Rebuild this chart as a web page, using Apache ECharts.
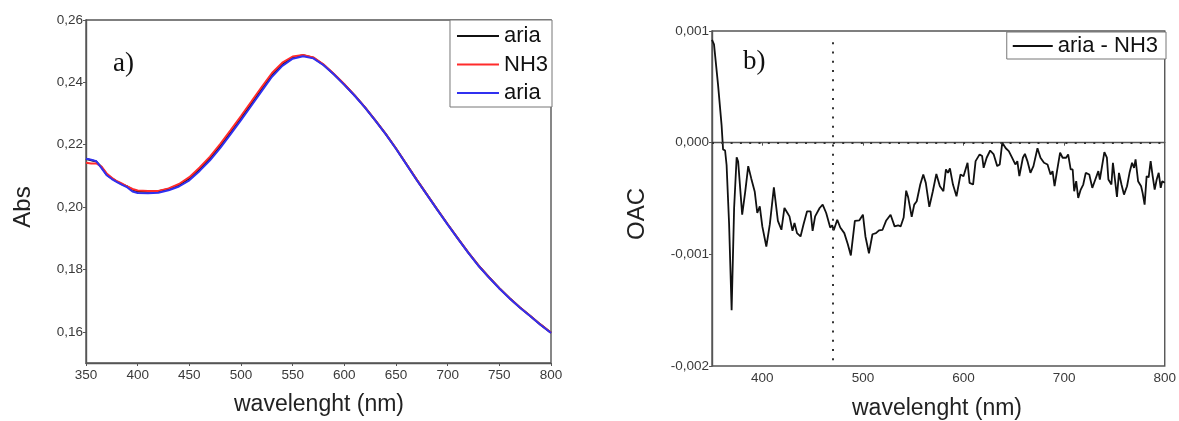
<!DOCTYPE html>
<html>
<head>
<meta charset="utf-8">
<title>Abs / OAC spectra</title>
<script src="https://cdn.jsdelivr.net/npm/echarts@6/dist/echarts.min.js"></script>
<style>
  html, body { margin: 0; padding: 0; background: #fff; }
  #chart { width: 1179px; height: 421px; }
</style>
</head>
<body>
<div id="chart"></div>
<script>
// Panel a) absorbance spectra (nm, Abs)
const wavelengthsA = [350, 355, 360, 365, 370, 375, 380, 385, 390, 395, 400, 410, 420, 430, 440, 450, 460, 470, 480, 490, 500, 510, 520, 530, 540, 550, 560, 570, 580, 590, 600, 610, 620, 630, 640, 650, 660, 670, 680, 690, 700, 710, 720, 730, 740, 750, 760, 770, 780, 790, 800];
const absAriaBefore = [0.2155, 0.2150, 0.2146, 0.2128, 0.2104, 0.2092, 0.2082, 0.2073, 0.2066, 0.2056, 0.2050, 0.2049, 0.2051, 0.2058, 0.2071, 0.2092, 0.2122, 0.2156, 0.2196, 0.2240, 0.2285, 0.2331, 0.2378, 0.2424, 0.2458, 0.2480, 0.2487, 0.2479, 0.2456, 0.2426, 0.2393, 0.2358, 0.2320, 0.2278, 0.2235, 0.2188, 0.2138, 0.2088, 0.2040, 0.1992, 0.1945, 0.1899, 0.1854, 0.1812, 0.1775, 0.1740, 0.1708, 0.1678, 0.1651, 0.1623, 0.1597];
const absNH3 = [0.2142, 0.2140, 0.2140, 0.2130, 0.2108, 0.2094, 0.2083, 0.2075, 0.2066, 0.2058, 0.2053, 0.2052, 0.2052, 0.2060, 0.2074, 0.2096, 0.2127, 0.2162, 0.2203, 0.2247, 0.2292, 0.2338, 0.2385, 0.2430, 0.2463, 0.2483, 0.2488, 0.2480, 0.2457, 0.2427, 0.2394, 0.2358, 0.2320, 0.2278, 0.2235, 0.2188, 0.2138, 0.2088, 0.2040, 0.1992, 0.1945, 0.1899, 0.1854, 0.1812, 0.1775, 0.1740, 0.1708, 0.1678, 0.1651, 0.1623, 0.1597];
const absAriaAfter = [0.2155, 0.2152, 0.2147, 0.2125, 0.2102, 0.2090, 0.2080, 0.2071, 0.2063, 0.2050, 0.2045, 0.2044, 0.2046, 0.2054, 0.2066, 0.2086, 0.2116, 0.2150, 0.2190, 0.2234, 0.2279, 0.2325, 0.2372, 0.2418, 0.2453, 0.2476, 0.2484, 0.2477, 0.2455, 0.2425, 0.2392, 0.2357, 0.2319, 0.2277, 0.2234, 0.2187, 0.2137, 0.2087, 0.2039, 0.1991, 0.1944, 0.1898, 0.1853, 0.1811, 0.1774, 0.1739, 0.1707, 0.1677, 0.1650, 0.1622, 0.1596];
const absTicks = [0.16, 0.18, 0.20, 0.22, 0.24, 0.26];

// Panel b) difference spectrum aria - NH3 (nm, OAC)
const wavelengthsB = [350, 352, 356, 359.5, 361, 363, 364.5, 367, 369.5, 372, 374.5, 376, 380, 383, 386, 389, 392.5, 395, 397.5, 400, 404, 407.5, 411.5, 415.5, 419, 422, 425, 427, 430, 432, 434.5, 438, 441, 444.5, 448, 450, 452.5, 457, 460, 463.5, 465, 467.5, 469.5, 471, 474.5, 477.5, 481.5, 485, 488, 492, 496.5, 500, 502.5, 506, 509.5, 513, 516, 519.5, 523, 527.5, 531.5, 535, 537.5, 540.5, 543, 545, 548.5, 551, 553.5, 557, 560, 562.5, 566, 569.5, 573, 576.5, 580, 582.5, 584.5, 586.5, 589.5, 593, 597, 600, 604, 606, 609.5, 612, 616, 618.5, 620, 623, 626.5, 630, 633.5, 636, 638.5, 642, 645, 648, 651.5, 653.5, 655.5, 659, 661, 663.5, 666.5, 669.5, 673.5, 676.5, 680, 683.5, 686.5, 688.5, 690.5, 693, 696, 698.5, 702, 704, 706.5, 708.5, 710, 712, 714, 716.5, 719, 721.5, 725, 728, 731, 734, 735.5, 740, 742.5, 744, 747, 748.5, 750.5, 752.5, 754.5, 757, 759.5, 762.5, 765, 767.5, 769.5, 771, 773.5, 776.5, 778, 780, 782, 784, 786, 788, 790, 792, 794, 796, 797.5, 800];
const oacDiff = [0.00092, 0.00088, 0.00052, 0.00016, -0.00006, -0.00007, -0.00020, -0.00073, -0.00150, -0.00058, -0.00013, -0.00017, -0.000645, -0.00044, -0.00021, -0.00032, -0.00044, -0.00063, -0.00057, -0.00075, -0.00093, -0.00073, -0.00040, -0.00070, -0.00078, -0.000585, -0.00063, -0.00066, -0.00079, -0.00072, -0.00081, -0.00084, -0.00073, -0.000615, -0.000615, -0.00079, -0.00066, -0.000585, -0.000555, -0.00063, -0.000645, -0.00076, -0.00074, -0.000785, -0.00069, -0.00076, -0.00081, -0.00091, -0.00101, -0.00070, -0.000695, -0.000645, -0.00084, -0.00099, -0.00082, -0.00081, -0.000785, -0.00078, -0.00070, -0.000645, -0.00075, -0.00074, -0.00075, -0.00067, -0.00043, -0.00049, -0.000665, -0.000555, -0.000525, -0.000375, -0.000285, -0.00036, -0.000575, -0.000435, -0.00028, -0.00039, -0.000435, -0.00024, -0.00027, -0.00023, -0.000375, -0.00048, -0.000285, -0.00030, -0.00018, -0.00036, -0.000375, -0.000165, -0.000105, -0.00012, -0.000225, -0.000135, -0.00007, -0.000105, -0.00021, -0.000195, 0.0, -0.00005, -0.000075, -0.00013, -0.000195, -0.000165, -0.00030, -0.000135, -0.00010, -0.000165, -0.00027, -0.00021, -0.00005, -0.000135, -0.00018, -0.000195, -0.000285, -0.000255, -0.00039, -0.00025, -0.00009, -0.000135, -0.000135, -0.000105, -0.00024, -0.00024, -0.000435, -0.000345, -0.000495, -0.00042, -0.000375, -0.00027, -0.000285, -0.000405, -0.00033, -0.000255, -0.00033, -0.000085, -0.000135, -0.00033, -0.000375, -0.00018, -0.00033, -0.000485, -0.00027, -0.000375, -0.000465, -0.00039, -0.00027, -0.00018, -0.000225, -0.00015, -0.000345, -0.00039, -0.00045, -0.000555, -0.00030, -0.00031, -0.000165, -0.00030, -0.00042, -0.00033, -0.00027, -0.000405, -0.000345, -0.00036];
const oacTicks = [400, 500, 600, 700, 800];
const markerWavelength = 470;

// Series names and the text each shows in the legend
const legendText = { 'aria-1': 'aria', 'NH3': 'NH3', 'aria-2': 'aria', 'aria - NH3': 'aria - NH3' };

const pairs = (xs, ys) => xs.map((x, i) => [x, ys[i]]);
const comma = (v, d) => v.toFixed(d).replace('.', ',');

const tickFont = { color: '#3a3a3a', fontSize: 13.5, fontFamily: 'Liberation Sans, Arial, sans-serif' };
const frameColor = '#555';
const titleFont = 'Liberation Sans, Arial, sans-serif';

const chart = echarts.init(document.getElementById('chart'), null, { renderer: 'canvas' });

chart.setOption({
  animation: false,
  backgroundColor: '#ffffff',
  grid: [
    { left: 86, top: 20, width: 465, height: 343, show: true, borderColor: frameColor, borderWidth: 1.4, backgroundColor: 'transparent' },
    { left: 712, top: 31, width: 455, height: 335, show: true, borderColor: frameColor, borderWidth: 1.4, backgroundColor: 'transparent' }
  ],
  xAxis: [
    {
      gridIndex: 0, type: 'value', min: 350, max: 800, interval: 50,
      axisLine: { show: true, lineStyle: { color: frameColor, width: 1.4 } },
      axisTick: { show: true, length: 3, lineStyle: { color: frameColor } },
      axisLabel: Object.assign({ margin: 5, formatter: v => String(v) }, tickFont),
      splitLine: { show: false }
    },
    {
      gridIndex: 1, type: 'value', min: 350, max: 800,
      axisLine: { show: true, lineStyle: { color: frameColor, width: 1.4 } },
      axisTick: { show: true, length: 3, customValues: oacTicks, lineStyle: { color: frameColor } },
      axisLabel: Object.assign({ margin: 5, customValues: oacTicks, formatter: v => String(v) }, tickFont),
      splitLine: { show: false }
    }
  ],
  yAxis: [
    {
      gridIndex: 0, type: 'value', min: 0.15, max: 0.26,
      axisLine: { show: true, lineStyle: { color: frameColor, width: 1.4 } },
      axisTick: { show: true, length: 3, customValues: absTicks, lineStyle: { color: frameColor } },
      axisLabel: Object.assign({ margin: 3, customValues: absTicks, formatter: v => comma(v, 2) }, tickFont),
      splitLine: { show: false }
    },
    {
      gridIndex: 1, type: 'value', min: -0.002, max: 0.001, interval: 0.001,
      axisLine: { show: true, lineStyle: { color: frameColor, width: 1.4 } },
      axisTick: { show: true, length: 3, lineStyle: { color: frameColor } },
      axisLabel: Object.assign({ margin: 3, formatter: v => comma(v, 3) }, tickFont),
      splitLine: { show: false }
    }
  ],
  legend: [
    {
      data: ['aria-1', 'NH3', 'aria-2'],
      orient: 'vertical', right: 627, top: 20,
      icon: 'rect', itemWidth: 42, itemHeight: 2, itemGap: 6.5,
      padding: [5, 4, 3, 7],
      borderColor: '#777', borderWidth: 1, backgroundColor: '#fff',
      formatter: n => legendText[n],
      textStyle: { fontSize: 22, lineHeight: 22, color: '#111', fontFamily: titleFont }
    },
    {
      data: ['aria - NH3'],
      orient: 'vertical', right: 13, top: 32,
      icon: 'rect', itemWidth: 40, itemHeight: 2,
      padding: [3, 8, 2, 6],
      borderColor: '#777', borderWidth: 1, backgroundColor: '#fff',
      formatter: n => legendText[n],
      textStyle: { fontSize: 22, lineHeight: 22, color: '#111', fontFamily: titleFont }
    }
  ],
  series: [
    {
      name: 'aria-1', type: 'line', xAxisIndex: 0, yAxisIndex: 0, showSymbol: false, symbol: 'none',
      color: '#111111', lineStyle: { width: 2, color: '#111111' },
      data: pairs(wavelengthsA, absAriaBefore)
    },
    {
      name: 'NH3', type: 'line', xAxisIndex: 0, yAxisIndex: 0, showSymbol: false, symbol: 'none',
      color: '#ff2b2b', lineStyle: { width: 2, color: '#ff2b2b' },
      data: pairs(wavelengthsA, absNH3)
    },
    {
      name: 'aria-2', type: 'line', xAxisIndex: 0, yAxisIndex: 0, showSymbol: false, symbol: 'none',
      color: '#3030f0', lineStyle: { width: 2, color: '#3030f0' },
      data: pairs(wavelengthsA, absAriaAfter)
    },
    {
      name: 'aria - NH3', type: 'line', xAxisIndex: 1, yAxisIndex: 1, showSymbol: false, symbol: 'none',
      color: '#111111', lineStyle: { width: 1.8, color: '#111111' },
      data: pairs(wavelengthsB, oacDiff),
      markLine: {
        silent: true, symbol: 'none', label: { show: false },
        lineStyle: { color: '#333', width: 2, type: [2, 7.3] },
        data: [
          { yAxis: 0 },
          [{ coord: [markerWavelength, 0.0009] }, { coord: [markerWavelength, -0.002] }]
        ]
      }
    }
  ],
  graphic: [
    { type: 'text', left: 113, top: 50, style: { text: 'a)', fontSize: 27, fontFamily: 'Liberation Serif, Times New Roman, serif', fill: '#111' } },
    { type: 'text', left: 743, top: 48, style: { text: 'b)', fontSize: 27, fontFamily: 'Liberation Serif, Times New Roman, serif', fill: '#111' } },
    { type: 'text', x: 23, y: 207, rotation: Math.PI / 2, style: { text: 'Abs', fontSize: 24, fontFamily: titleFont, fill: '#222', align: 'center', verticalAlign: 'middle' } },
    { type: 'text', x: 637, y: 214, rotation: Math.PI / 2, style: { text: 'OAC', fontSize: 24, fontFamily: titleFont, fill: '#222', align: 'center', verticalAlign: 'middle' } },
    { type: 'text', x: 319, y: 405, style: { text: 'wavelenght (nm)', fontSize: 23, fontFamily: titleFont, fill: '#222', align: 'center', verticalAlign: 'middle' } },
    { type: 'text', x: 937, y: 409, style: { text: 'wavelenght (nm)', fontSize: 23, fontFamily: titleFont, fill: '#222', align: 'center', verticalAlign: 'middle' } }
  ]
});
</script>
</body>
</html>
